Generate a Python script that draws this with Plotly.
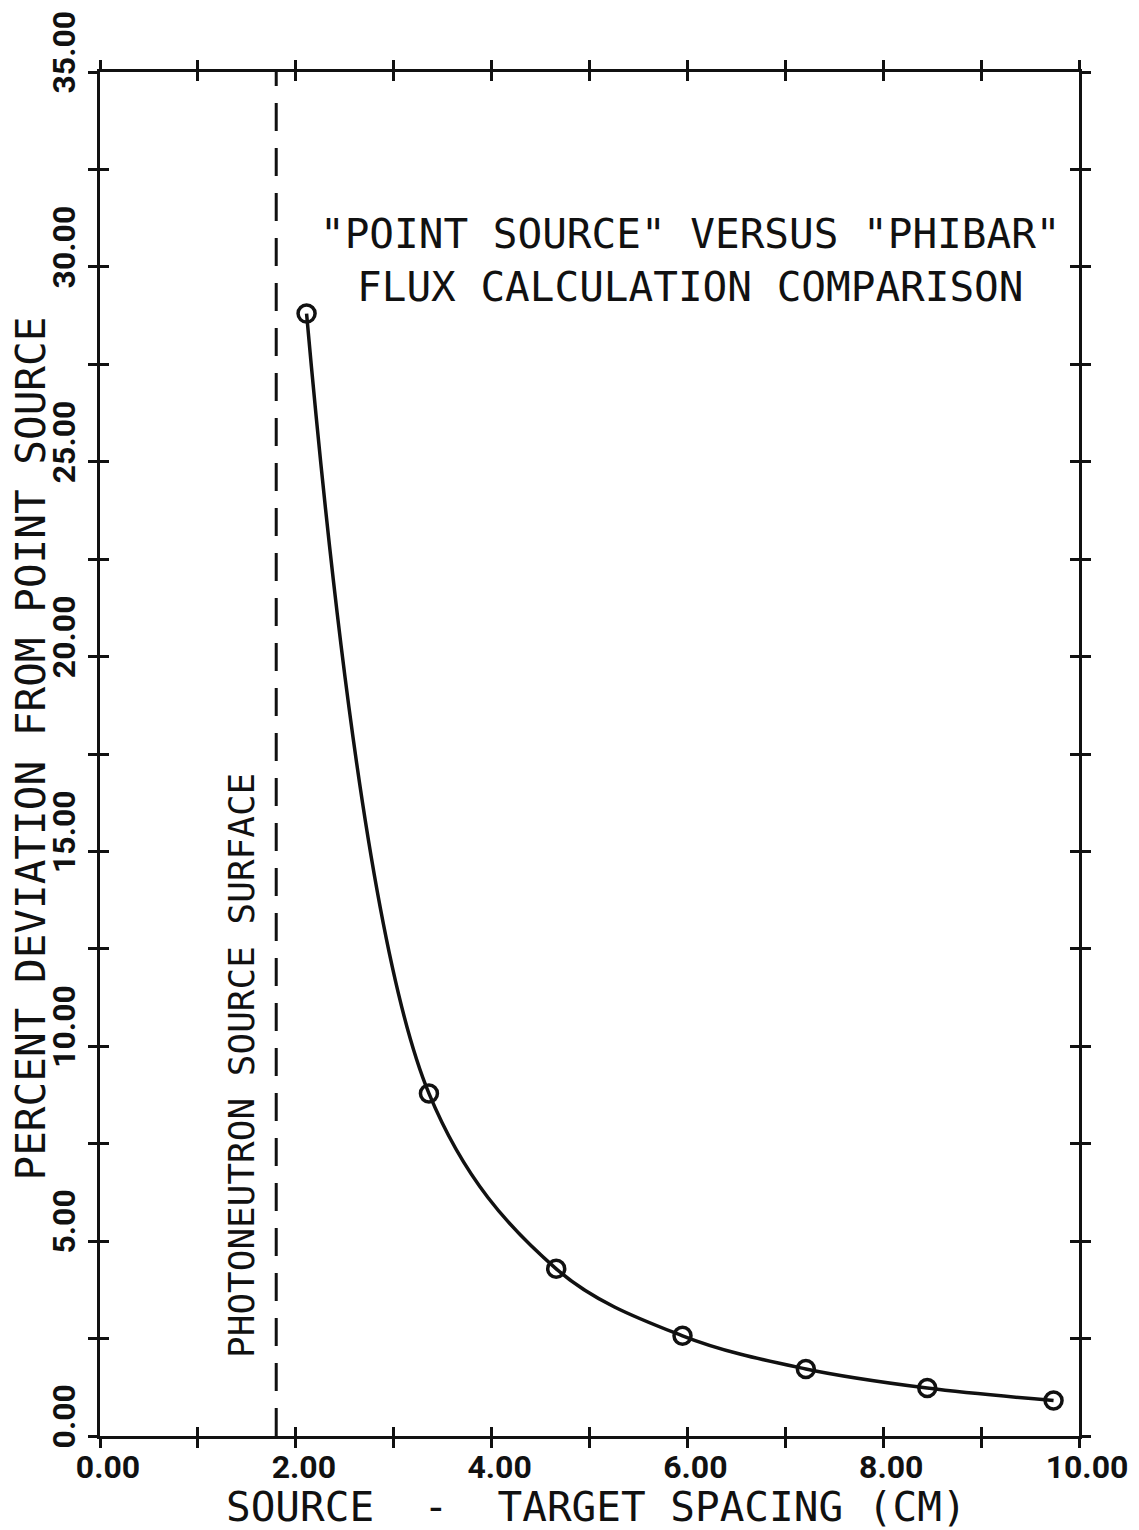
import plotly.graph_objects as go

# ---- data ----
spacing_cm = [2.11, 3.36, 4.66, 5.95, 7.21, 8.45, 9.74]
percent_dev = [28.80, 8.79, 4.29, 2.57, 1.72, 1.23, 0.91]
surface_x = 1.80
y_span = [0, 35]

x_tick_vals = [0, 1, 2, 3, 4, 5, 6, 7, 8, 9, 10]
x_tick_text = ["0.00", "", "2.00", "", "4.00", "", "6.00", "", "8.00", "", "10.00"]
y_tick_vals = [0, 2.5, 5, 7.5, 10, 12.5, 15, 17.5, 20, 22.5, 25, 27.5, 30, 32.5, 35]
y_tick_text = ["0.00", "", "5.00", "", "10.00", "", "15.00", "", "20.00", "", "25.00", "", "30.00", "", "35.00"]

title_lines = ['"POINT SOURCE" VERSUS "PHIBAR"', "FLUX CALCULATION COMPARISON"]
x_title = "SOURCE  -  TARGET SPACING (CM)"
y_title = "PERCENT DEVIATION FROM POINT SOURCE"
surface_label = "PHOTONEUTRON SOURCE SURFACE"

MONO = "DejaVu Sans Mono"
NARROW = "Roboto, sans-serif"
INK = "#111111"

fig = go.Figure()

fig.add_trace(go.Scatter(
    x=spacing_cm, y=percent_dev, mode="lines+markers",
    line=dict(color=INK, width=3.5, shape="spline", smoothing=1.0),
    marker=dict(symbol="circle-open", size=17, color=INK, line=dict(width=3.5)),
    hoverinfo="skip", showlegend=False,
))

fig.add_trace(go.Scatter(
    x=[surface_x, surface_x], y=y_span, mode="lines",
    line=dict(color=INK, width=3, dash="28px,17px"),
    xaxis="x2", yaxis="y2", hoverinfo="skip", showlegend=False,
))

common_x = dict(range=[0, 10], tickvals=x_tick_vals, showgrid=False, zeroline=False,
                ticklen=9, tickwidth=3, tickcolor=INK, mirror="ticks", automargin=False)
common_y = dict(range=[0, 35], tickvals=y_tick_vals, showgrid=False, zeroline=False,
                ticklen=9, tickwidth=3, tickcolor=INK, mirror="ticks", automargin=False)

fig.update_layout(
    width=1139, height=1530,
    margin=dict(l=100, r=60, t=72, b=94),
    paper_bgcolor="white", plot_bgcolor="white",
    xaxis=dict(**common_x, ticks="outside", ticktext=x_tick_text,
               showline=True, linewidth=3, linecolor=INK,
               tickfont=dict(family=NARROW, size=32, color=INK, weight="bold"),
               ticklabelshift=8, ticklabelstandoff=-8),
    yaxis=dict(**common_y, ticks="outside", ticktext=y_tick_text, tickangle=-90,
               showline=True, linewidth=3, linecolor=INK,
               tickfont=dict(family=NARROW, size=32, color=INK, weight="bold"),
               ticklabelshift=-15),
    xaxis2=dict(**common_x, ticks="inside", overlaying="x", anchor="y2",
                showticklabels=False, showline=False),
    yaxis2=dict(**common_y, ticks="inside", overlaying="y", anchor="x2",
                showticklabels=False, showline=False),
)

fig.add_annotation(text="<br>".join(title_lines), xref="paper", yref="paper",
                   x=0.603, y=0.862, xanchor="center", yanchor="middle",
                   showarrow=False, font=dict(family=MONO, size=41, color=INK))
fig.add_annotation(text=x_title, xref="paper", yref="paper",
                   x=0.507, y=-0.052, xanchor="center", yanchor="middle",
                   showarrow=False, font=dict(family=MONO, size=41, color=INK))
fig.add_annotation(text=y_title, xref="paper", yref="paper", textangle=-90,
                   x=-0.0705, y=0.504, xanchor="center", yanchor="middle",
                   showarrow=False, font=dict(family=MONO, size=41, color=INK))
fig.add_annotation(text=surface_label, xref="paper", yref="paper", textangle=-90,
                   x=0.145, y=0.272, xanchor="center", yanchor="middle",
                   showarrow=False, font=dict(family=MONO, size=36, color=INK))

fig.write_html("out.html")
